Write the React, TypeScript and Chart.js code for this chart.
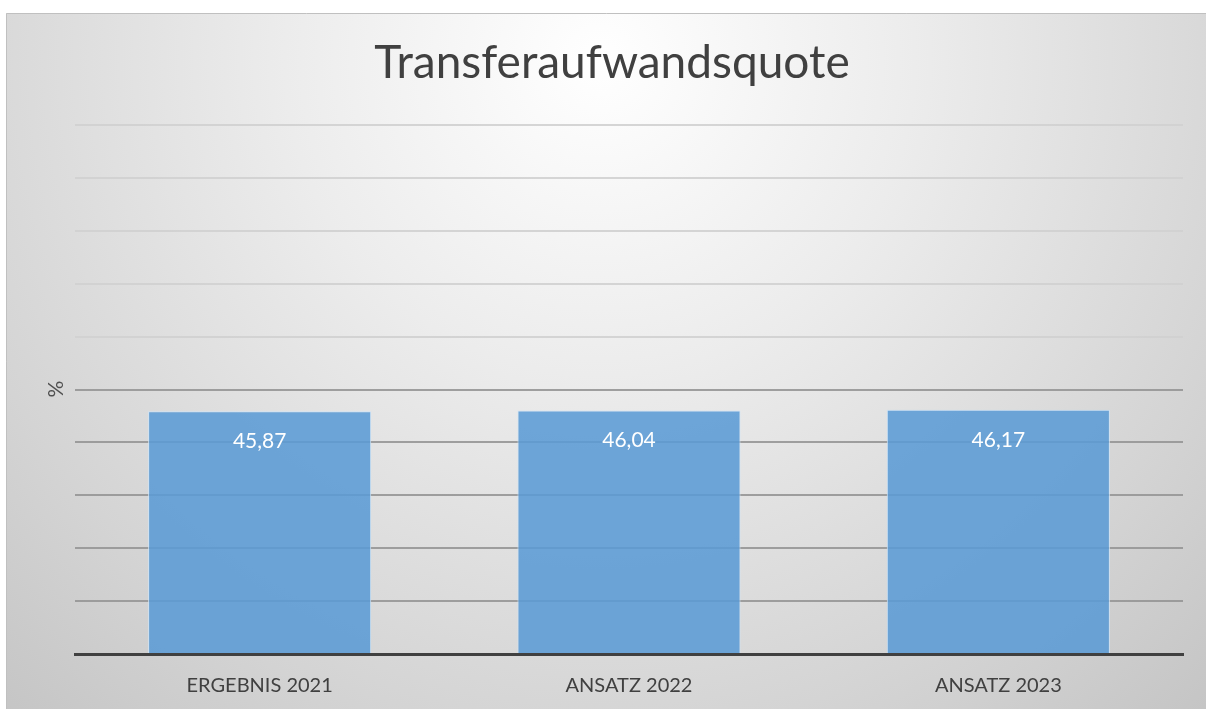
import React, { useEffect, useRef } from "react";
import { Chart, registerables } from "chart.js";

Chart.register(...registerables);

const categories = ["ERGEBNIS 2021", "ANSATZ 2022", "ANSATZ 2023"];
const values = [45.87, 46.04, 46.17];
const titleText = "Transferaufwandsquote";
const yAxisLabel = "%";
const FONT = "Lato, 'Open Sans', sans-serif";

const bgPlugin = {
  id: "bgPlugin",
  beforeDraw(chart: any) {
    const { ctx, width, height } = chart;
    ctx.save();
    ctx.fillStyle = "#ffffff";
    ctx.fillRect(0, 0, width, height);
    const g = ctx.createRadialGradient(600, 60, 0, 600, 60, 900);
    g.addColorStop(0, "#ffffff");
    g.addColorStop(0.35, "#ececec");
    g.addColorStop(0.75, "#d4d4d4");
    g.addColorStop(1, "#c4c4c4");
    ctx.fillStyle = g;
    ctx.fillRect(6, 13, width - 6, height - 13);
    ctx.strokeStyle = "#c0c0c0";
    ctx.lineWidth = 1;
    ctx.beginPath();
    ctx.moveTo(6.5, height);
    ctx.lineTo(6.5, 13.5);
    ctx.lineTo(width, 13.5);
    ctx.stroke();
    // title
    ctx.fillStyle = "#404040";
    ctx.font = `46px ${FONT}`;
    ctx.textAlign = "center";
    ctx.textBaseline = "alphabetic";
    ctx.fillText(titleText, 612, 78);
    // y label
    ctx.translate(56, 389);
    ctx.rotate(-Math.PI / 2);
    ctx.textBaseline = "middle";
    ctx.font = `21px ${FONT}`;
    ctx.fillStyle = "#505050";
    ctx.fillText(yAxisLabel, 0, 0);
    ctx.restore();
  },
};

const labelPlugin = {
  id: "labelPlugin",
  afterDatasetsDraw(chart: any) {
    const { ctx } = chart;
    const meta = chart.getDatasetMeta(0);
    ctx.save();
    ctx.fillStyle = "#ffffff";
    ctx.font = `21px ${FONT}`;
    ctx.textAlign = "center";
    ctx.textBaseline = "middle";
    meta.data.forEach((bar: any, i: number) => {
      const v = values[i].toFixed(2).replace(".", ",");
      ctx.fillText(v, bar.x, bar.y + 30);
    });
    ctx.restore();
  },
};

export default function App() {
  const ref = useRef<HTMLCanvasElement>(null);
  useEffect(() => {
    if (!ref.current) return;
    const chart = new Chart(ref.current, {
      type: "bar",
      data: {
        labels: categories,
        datasets: [
          {
            data: values,
            backgroundColor: "rgba(91,155,213,0.88)",
            borderColor: "rgba(205,228,248,0.95)",
            borderWidth: 1,
            categoryPercentage: 0.604,
            barPercentage: 1,
          },
        ],
      },
      options: {
        animation: false,
        responsive: false,
        maintainAspectRatio: false,
        layout: { padding: { left: 75, right: 23, top: 125, bottom: 0 } },
        plugins: { legend: { display: false }, title: { display: false }, tooltip: { enabled: false } },
        scales: {
          x: {
            grid: { display: false, drawTicks: false },
            border: { display: true, color: "#404040", width: 3 },
            ticks: { color: "#404040", font: { family: FONT, size: 20 }, padding: 20 },
            afterFit(scale: any) {
              scale.height = 55;
            },
          },
          y: {
            min: 0,
            max: 100,
            ticks: { display: false, stepSize: 10 },
            border: { display: false },
            grid: {
              drawTicks: false,
              tickLength: 0,
              lineWidth: 2,
              color: (c: any) => (c.tick && c.tick.value > 50 ? "rgba(208,208,208,0.9)" : "rgba(150,150,150,0.9)"),
            },
            afterFit(scale: any) {
              scale.width = 0;
            },
          },
        },
      },
      plugins: [bgPlugin, labelPlugin],
    });
    return () => chart.destroy();
  }, []);
  return (
    <div style={{ position: "absolute", left: 0, top: 0, width: 1206, height: 709 }}>
      <canvas ref={ref} width={1206} height={709} style={{ width: 1206, height: 709, display: "block" }} />
    </div>
  );
}
